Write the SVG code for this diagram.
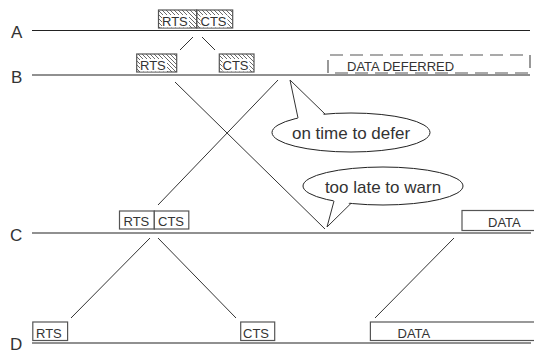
<svg xmlns="http://www.w3.org/2000/svg" width="534" height="352" viewBox="0 0 534 352">
<defs>
<pattern id="hatch" patternUnits="userSpaceOnUse" width="4" height="4">
<path d="M-1,-1 L5,5 M-1,3 L1,5 M3,-1 L5,1" stroke="#444" stroke-width="0.8"/>
</pattern>
</defs>
<style>
.ln{stroke:#222;stroke-width:1.2;fill:none}
.cn{stroke:#333;stroke-width:1;fill:none}
.bx{fill:#fff;stroke:#555;stroke-width:1.2}
.hb{fill:url(#hatch);stroke:#555;stroke-width:1.2}
.wb{fill:#fff;stroke:none}
.lbl{font-family:"Liberation Sans",Arial,sans-serif;font-size:17px;fill:#333}
.bt{font-family:"Liberation Sans",Arial,sans-serif;font-size:13px;fill:#333}
.ct{font-family:"Liberation Sans",Arial,sans-serif;font-size:17px;fill:#333;text-anchor:middle}
.dash{stroke:#555;stroke-width:1.2;fill:none;stroke-dasharray:13 7}
.bub{fill:#fff;stroke:#222;stroke-width:1}
</style>
<g id="timelines">
<g id="lineA"><text class="lbl" x="11" y="37.5">A</text><line class="ln" x1="32" y1="30.5" x2="530" y2="30.5"/></g>
<g id="lineB"><text class="lbl" x="11" y="82.5">B</text><line class="ln" x1="32" y1="75" x2="530" y2="75"/></g>
<g id="lineC"><text class="lbl" x="10" y="240.5">C</text><line class="ln" x1="32" y1="233" x2="531" y2="233"/></g>
<g id="lineD"><text class="lbl" x="10" y="349.5">D</text><line class="ln" x1="32" y1="343" x2="531" y2="343"/></g>
</g>
<g id="connectors">
<line class="cn" x1="180" y1="50" x2="193" y2="37"/>
<line class="cn" x1="202" y1="37" x2="215" y2="50"/>
<line class="cn" x1="175" y1="82" x2="325" y2="229"/>
<line class="cn" x1="278" y1="80" x2="158" y2="205"/>
<line class="cn" x1="150" y1="238" x2="71" y2="318"/>
<line class="cn" x1="158" y1="238" x2="236" y2="318"/>
<line class="cn" x1="454" y1="238" x2="375" y2="318"/>
</g>
<g id="A-rts-cts">
<rect class="hb" x="158.5" y="10" width="38.2" height="18"/>
<rect class="hb" x="196.7" y="10" width="36" height="18"/>
<rect class="wb" x="162" y="15" width="27" height="12.4"/>
<rect class="wb" x="200.5" y="15" width="27" height="12.4"/>
<text class="bt" x="162" y="26">RTS</text>
<text class="bt" x="200.5" y="26">CTS</text>
</g>
<g id="B-rts">
<rect class="hb" x="136.7" y="54" width="40" height="18"/>
<rect class="wb" x="140" y="59" width="27" height="12.4"/>
<text class="bt" x="140" y="70">RTS</text>
</g>
<g id="B-cts">
<rect class="hb" x="219.3" y="54" width="34.7" height="18"/>
<rect class="wb" x="222.5" y="59" width="27" height="12.4"/>
<text class="bt" x="222.5" y="70">CTS</text>
</g>
<g id="B-data-deferred">
<path class="dash" d="M328,73 V55 H530 V73 H328"/>
<text class="bt" x="347" y="70.5">DATA DEFERRED</text>
</g>
<g id="bubble-defer">
<ellipse class="bub" cx="351" cy="132.5" rx="79" ry="19.5"/>
<polygon points="298,120 290,80 325,116" fill="#fff" stroke="none"/>
<polyline class="cn" points="298,118 290,80 325,114" stroke="#222"/>
<text class="ct" x="351" y="138.5">on time to defer</text>
</g>
<g id="bubble-warn">
<ellipse class="bub" cx="383" cy="186" rx="80" ry="19"/>
<polygon points="334,199 327,227 351,201" fill="#fff" stroke="none"/>
<polyline class="cn" points="334,201 327,227 351,203.4" stroke="#222"/>
<text class="ct" x="383" y="193.3">too late to warn</text>
</g>
<g id="C-rts-cts">
<rect class="bx" x="119.5" y="211" width="34.8" height="18"/>
<rect class="bx" x="154.3" y="211" width="34.5" height="18"/>
<text class="bt" x="123.5" y="226">RTS</text>
<text class="bt" x="158" y="226">CTS</text>
</g>
<g id="C-data">
<rect class="bx" x="462" y="210.5" width="80" height="20"/>
<text class="bt" x="488" y="227">DATA</text>
</g>
<g id="D-rts">
<rect class="bx" x="32.8" y="322" width="34.8" height="18.5"/>
<text class="bt" x="36" y="337.5">RTS</text>
</g>
<g id="D-cts">
<rect class="bx" x="240.7" y="322" width="34" height="18.5"/>
<text class="bt" x="243" y="337.5">CTS</text>
</g>
<g id="D-data">
<rect class="bx" x="370.4" y="322" width="170" height="18.5"/>
<text class="bt" x="397.5" y="337.5">DATA</text>
</g>
</svg>
